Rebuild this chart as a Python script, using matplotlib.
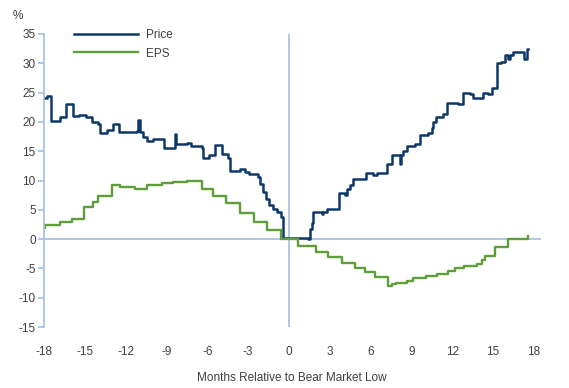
import matplotlib.pyplot as plt
from matplotlib.lines import Line2D

# Price: months relative to low, % change (step series)
price_x = [-18.0, -17.8, -17.5, -16.8, -16.4, -15.9, -15.4, -14.9, -14.5, -14.0, -13.9,
           -13.4, -12.9, -12.5, -11.8, -11.2, -11.1, -10.95, -10.7, -10.4, -10.0, -9.2,
           -8.5, -8.4, -8.3, -7.5, -7.2, -6.4, -6.3, -5.9, -5.4, -4.9, -4.5, -4.3,
           -3.6, -3.2, -2.9, -2.3, -2.1, -1.9, -1.7, -1.45, -1.2, -0.9, -0.55, -0.45,
           1.4, 1.55, 1.67, 1.8, 2.4, 2.5, 2.8, 3.5, 3.7, 4.1, 4.25, 4.5, 4.7, 5.6,
           5.7, 6.2, 6.45, 7.2, 7.55, 8.2, 8.25, 8.4, 8.65, 9.3, 9.6, 10.2, 10.5,
           10.6, 10.8, 11.35, 11.6, 12.45, 12.8, 13.3, 13.55, 14.3, 14.65, 14.9,
           15.3, 15.6, 15.9, 16.1, 16.25, 16.5, 17.25, 17.5, 17.55]
price_y = [24.0, 24.5, 20.2, 20.8, 23.0, 21.0, 21.2, 20.8, 20.0, 19.6, 18.1,
           18.6, 19.6, 18.2, 18.3, 18.5, 20.3, 18.3, 17.5, 16.8, 17.0, 15.5,
           15.6, 17.9, 16.3, 16.4, 15.9, 15.6, 13.9, 14.3, 16.0, 14.6, 13.8, 11.7,
           11.9, 11.5, 11.1, 10.6, 9.4, 8.1, 6.9, 5.8, 5.2, 4.7, 3.7, 0.2,
           0.0, 1.8, 2.7, 4.7, 4.3, 4.7, 5.1, 5.2, 7.8, 7.5, 8.6, 9.2, 10.2, 10.2,
           11.3, 10.9, 11.3, 12.8, 14.3, 12.9, 14.3, 15.1, 15.9, 16.3, 17.7, 18.1, 18.9,
           20.0, 20.8, 21.4, 23.2, 23.0, 24.9, 24.7, 24.0, 25.0, 24.7, 25.7,
           30.0, 30.3, 31.4, 30.8, 31.4, 32.0, 30.8, 32.5, 32.5]

# EPS: months relative to low, % change (step series)
eps_x = [-18.0, -17.9, -16.8, -15.96, -15.07, -14.4, -14.0, -13.0, -12.4, -11.3, -10.4,
         -9.3, -8.5, -7.5, -6.4, -5.6, -4.6, -3.6, -2.6, -1.6, -0.6, 0.7, 2.0, 2.9,
         3.9, 4.85, 5.6, 6.3, 7.3, 7.55, 7.9, 8.65, 9.1, 10.1, 10.9, 11.7, 12.2,
         12.9, 13.8, 14.2, 14.45, 15.15, 16.1, 17.55, 17.6]
eps_y = [1.9, 2.4, 2.95, 3.4, 5.5, 6.3, 7.3, 9.2, 8.9, 8.6, 9.2,
         9.5, 9.7, 9.9, 8.5, 7.4, 6.1, 4.5, 2.95, 1.5, 0.1, -1.1, -2.2, -3.1,
         -4.0, -4.9, -5.6, -6.4, -8.0, -7.7, -7.5, -7.2, -6.7, -6.3, -5.9, -5.4, -5.0,
         -4.6, -4.3, -3.5, -2.85, -1.3, 0.1, 0.5, 0.5]

xticks = [-18, -15, -12, -9, -6, -3, 0, 3, 6, 9, 12, 15, 18]
yticks = [-15, -10, -5, 0, 5, 10, 15, 20, 25, 30, 35]

price_color = '#0D3868'
eps_color = '#5E9F3A'
axis_color = '#A3BDE0'
text_color = '#404040'

plt.rcParams['font.family'] = ['Liberation Sans Narrow', 'Liberation Sans', 'DejaVu Sans']
plt.rcParams['axes.unicode_minus'] = False

fig = plt.figure(figsize=(5.69, 3.88), dpi=100)
ax = fig.add_axes([44 / 569, 61 / 388, (540.6 - 44) / 569, (327 - 34) / 388])

ax.plot(price_x, price_y, drawstyle='steps-post', color=price_color, lw=1.8)
ax.plot(eps_x, eps_y, drawstyle='steps-post', color=eps_color, lw=1.7)

ax.axhline(0, color=axis_color, lw=1.2, zorder=0)
ax.axvline(0, color=axis_color, lw=1.2, zorder=0)

ax.set_xlim(-18, 18.5)
ax.set_ylim(-15, 35)
ax.set_xticks(xticks)
ax.set_yticks(yticks)

for s in ['top', 'right', 'bottom']:
    ax.spines[s].set_visible(False)
ax.spines['left'].set_color(axis_color)
ax.spines['left'].set_linewidth(1.2)

ax.tick_params(axis='y', colors=axis_color, labelcolor=text_color, labelsize=8.5,
               length=4, width=1.2, pad=2)
ax.tick_params(axis='x', length=0, labelcolor=text_color, labelsize=8.5, pad=14)

ax.set_xlabel('Months Relative to Bear Market Low', color=text_color, fontsize=8.5, labelpad=10)
fig.text(18 / 569, 1 - 16 / 388, '%', color=text_color, fontsize=8.5, ha='center', va='center')

handles = [Line2D([], [], color=price_color, lw=1.8), Line2D([], [], color=eps_color, lw=1.7)]
ax.legend(handles, ['Price', 'EPS'], loc='upper left', bbox_to_anchor=(0.05, 1.033),
          frameon=False, handlelength=5.5, handletextpad=0.6, fontsize=8.5,
          labelcolor=text_color, borderaxespad=0, labelspacing=0.55)

fig.savefig('out.png', dpi=100)
